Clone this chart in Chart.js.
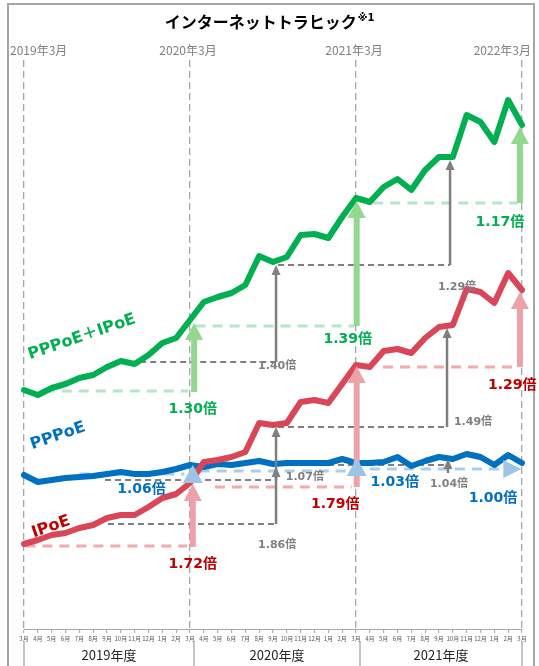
<!DOCTYPE html>
<html><head><meta charset="utf-8">
<script src="https://cdn.jsdelivr.net/npm/chart.js@4"></script>
<style>html,body{margin:0;padding:0;background:#fff}canvas{display:block}</style>
</head><body>
<canvas id="c" width="539" height="666"></canvas>
<script>
// ---- data (relative traffic) ----
const months = ['3月','4月','5月','6月','7月','8月','9月','10月','11月','12月','1月','2月',
                '3月','4月','5月','6月','7月','8月','9月','10月','11月','12月','1月','2月',
                '3月','4月','5月','6月','7月','8月','9月','10月','11月','12月','1月','2月','3月'];
const fiscalYears = ['2019年度','2020年度','2021年度'];
const marchLabels = ['2019年3月','2020年3月','2021年3月','2022年3月'];
const totalTraffic = [239,234,241,245,251,254,262,268,265,274,286,291,
                      309,327,332,336,344,373,367,372,394,395,391,412,
                      431,427,442,450,439,459,472,472,514,507,487,529,504];
const ipoeTraffic  = [85,89,94,96,101,104,111,114,114,122,131,135,
                      146,167,169,172,177,206,204,206,227,229,226,245,
                      264,262,278,280,276,291,302,304,340,337,326,356,339];
const pppoeTraffic = [154,147,149,151,152,153,155,157,155,155,157,160,
                      164,162,165,164,166,168,165,166,166,166,166,170,
                      166,166,167,172,163,168,172,170,175,172,164,174,166];
const seriesNames = ['PPPoE＋IPoE','PPPoE','IPoE'];
const ratioLabels = ['1.30倍','1.39倍','1.17倍','1.72倍','1.79倍','1.29倍','1.06倍','1.03倍','1.00倍',
                     '1.40倍','1.29倍','1.86倍','1.49倍','1.07倍','1.04倍'];

const SER = {total: totalTraffic, ipoe: ipoeTraffic, pppoe: pppoeTraffic};

// comparison annotations (indices on the month axis, pixel offsets from the value level)
const CMP = [
  {s:'total', from:0,  to:12, kind:'green', d:[1.5,11.85],  dDy:1, ax:12.3,  aDy:2, tDy:3, li:0,  lx:12.2, lDy:19},
  {s:'total', from:12, to:24, kind:'green', d:[12.4,23.9],  dDy:6, ax:24.05, aDy:6, tDy:3, li:1,  lx:23.4, lDy:19},
  {s:'total', from:24, to:36, kind:'green', d:[25.25,35.7], dDy:5, ax:35.85, aDy:5, tDy:2, li:2,  lx:34.4, lDy:24},
  {s:'ipoe',  from:0,  to:12, kind:'red',   d:[0.1,11.8],   dDy:2, ax:12.2,  aDy:3, tDy:1, li:3,  lx:12.2, lDy:20},
  {s:'ipoe',  from:12, to:24, kind:'red',   d:[13.8,23.7],  dDy:4, ax:24.05, aDy:4, tDy:1, li:4,  lx:22.5, lDy:21},
  {s:'ipoe',  from:24, to:36, kind:'red',   d:[25.95,35.7], dDy:2, ax:35.85, aDy:2, tDy:2, li:5,  lx:35.3, lDy:20},
  {s:'pppoe', from:0,  to:12, kind:'blue',  d:[4.0,11.6],   dDy:-1, ax:12.2, tri:'up', tDy:0,  li:6, lx:8.5,  lDy:14},
  {s:'pppoe', from:12, to:24, kind:'blue',  d:[12.7,23.7],  dDy:6, ax:24.05, tri:'up', tDy:-5, li:7, lx:26.8, lDy:17},
  {s:'pppoe', from:24, to:36, kind:'blue',  d:[25.0,34.8],  dDy:6, ax:35.95, tri:'right', li:8, lx:33.9, lDy:35},
  {s:'total', from:8,  to:18, kind:'gray',  d:[8.4,18.22],  dDy:-2, ax:18.22, aDy:-2, tDy:3, li:9,  lx:18.3, lDy:2},
  {s:'total', from:18, to:30, kind:'gray',  d:[18.36,30.8], dDy:3, ax:30.8,  aDy:3, tDy:3, li:10, lx:31.3, lDy:25},
  {s:'ipoe',  from:6,  to:18, kind:'gray',  d:[6.07,18.22], dDy:6, ax:18.22, aDy:6, tDy:2, li:11, lx:18.3, lDy:27},
  {s:'ipoe',  from:18, to:30, kind:'gray',  d:[18.36,30.58],dDy:2, ax:30.58, aDy:2, tDy:1, li:12, lx:32.46,lDy:-3},
  {s:'pppoe', from:6,  to:18, kind:'gray',  d:[5.86,18.22], dDy:6, ax:18.22, aDy:6, tDy:3, li:13, lx:20.3, lDy:3},
  {s:'pppoe', from:18, to:30, kind:'gray',  d:[18.36,30.65],dDy:1, ax:30.65, aDy:9, tDy:2, li:14, lx:30.72,lDy:20}
];
const KIND = {
  green:{dash:'#b5e6c7', arrow:'#92d88f', text:'#00b050', w:3, pat:[10,7]},
  red:  {dash:'#f2a9b0', arrow:'#eda1a9', text:'#c00000', w:3, pat:[10,7]},
  blue: {dash:'#a9cdee', arrow:'#9dc3e6', text:'#0070c0', w:3, pat:[10,7]},
  gray: {dash:'#7f7f7f', arrow:'#7f7f7f', text:'#7f7f7f', w:2, pat:[6,4]}
};

const SANS = "'DejaVu Sans','Noto Sans CJK JP',sans-serif";
const CJK = "'Noto Sans CJK JP','DejaVu Sans',sans-serif";

function vArrow(ctx,x,yb,yt,color,sw,hw,hl){
  ctx.fillStyle=color;
  ctx.fillRect(x-sw/2, yt+hl-0.5, sw, Math.max(0,yb-(yt+hl)+0.5));
  ctx.beginPath(); ctx.moveTo(x,yt); ctx.lineTo(x+hw/2,yt+hl); ctx.lineTo(x-hw/2,yt+hl); ctx.closePath(); ctx.fill();
}

const annPlugin = {
  id:'ann',
  beforeDraw(chart){
    const ctx=chart.ctx; ctx.save();
    ctx.fillStyle='#fff'; ctx.fillRect(0,0,chart.width,chart.height);
    ctx.strokeStyle='#a6a6a6'; ctx.lineWidth=2; ctx.strokeRect(8,4,526,680);
    ctx.restore();
  },
  beforeDatasetsDraw(chart){
    const ctx=chart.ctx, X=v=>chart.scales.x.getPixelForValue(v), Y=v=>chart.scales.y.getPixelForValue(v);
    ctx.save();
    CMP.forEach(c=>{
      const k=KIND[c.kind]; const y=Y(SER[c.s][c.from])+c.dDy;
      ctx.strokeStyle=k.dash; ctx.lineWidth=k.w; ctx.setLineDash(k.pat);
      ctx.beginPath(); ctx.moveTo(X(c.d[0]),y); ctx.lineTo(X(c.d[1]),y); ctx.stroke();
    });
    ctx.restore();
  },
  afterDatasetsDraw(chart){
    const ctx=chart.ctx, X=v=>chart.scales.x.getPixelForValue(v), Y=v=>chart.scales.y.getPixelForValue(v);
    ctx.save();
    CMP.forEach(c=>{
      const k=KIND[c.kind]; const base=Y(SER[c.s][c.from]); const top=Y(SER[c.s][c.to]);
      const x=X(c.ax);
      ctx.fillStyle=k.arrow;
      if(c.tri==='up'){
        const yt=top+c.tDy; ctx.beginPath(); ctx.moveTo(x,yt); ctx.lineTo(x+10,yt+18); ctx.lineTo(x-10,yt+18); ctx.closePath(); ctx.fill();
      } else if(c.tri==='right'){
        const y=base+c.dDy; ctx.beginPath(); ctx.moveTo(x,y); ctx.lineTo(x-18,y-9); ctx.lineTo(x-18,y+9); ctx.closePath(); ctx.fill();
      } else if(c.kind==='gray'){
        vArrow(ctx,x,base+c.aDy,top+c.tDy,k.arrow,2.5,9,10);
      } else {
        vArrow(ctx,x,base+c.aDy,top+c.tDy,k.arrow,6,18,17);
      }
    });
    // ratio labels
    ctx.textAlign='center'; ctx.textBaseline='middle';
    CMP.forEach(c=>{
      const k=KIND[c.kind]; const base=Y(SER[c.s][c.from]);
      ctx.fillStyle=k.text;
      ctx.font = c.kind==='gray' ? "bold 11px "+SANS : "bold 14px "+SANS;
      ctx.fillText(ratioLabels[c.li], X(c.lx), base+c.lDy);
    });
    // series name labels
    const names=[{t:seriesNames[0],c:'#00b050',x:82,y:337},{t:seriesNames[1],c:'#0070c0',x:58,y:436},{t:seriesNames[2],c:'#c00000',x:51,y:527}];
    names.forEach(n=>{
      ctx.save(); ctx.translate(n.x,n.y); ctx.rotate(-19*Math.PI/180);
      ctx.fillStyle=n.c; ctx.font="bold 16px "+SANS; ctx.fillText(n.t,0,0); ctx.restore();
    });
    // title
    ctx.textAlign='left'; ctx.textBaseline='alphabetic'; ctx.fillStyle='#000';
    const t1='インターネットトラヒック', t2='※1';
    ctx.font="bold 16px "+CJK; const w1=ctx.measureText(t1).width;
    ctx.font="bold 10px "+SANS; const w2=ctx.measureText(t2).width;
    const tx=269-(w1+w2)/2;
    ctx.font="bold 16px "+CJK; ctx.fillText(t1,tx,28);
    ctx.font="bold 10px "+SANS; ctx.fillText(t2,tx+w1+1,21);
    // march labels
    ctx.font="12px "+CJK; ctx.fillStyle='#7f7f7f'; ctx.textBaseline='middle';
    [0,12,24,36].forEach((idx,i)=>{
      const x=X(idx);
      if(i===0){ctx.textAlign='left'; ctx.fillText(marchLabels[i],x-14,50);}
      else if(i===3){ctx.textAlign='right'; ctx.fillText(marchLabels[i],531,50);}
      else {ctx.textAlign='center'; ctx.fillText(marchLabels[i],x-2,50);}
    });
    // fiscal year band
    const seps=[X(0),X(12)+4,X(24)+4,X(36)];
    ctx.strokeStyle='#a6a6a6'; ctx.lineWidth=1.3; ctx.setLineDash([]);
    seps.forEach((sx)=>{ ctx.beginPath(); ctx.moveTo(sx,641); ctx.lineTo(sx,666); ctx.stroke(); });
    ctx.font="13px "+CJK; ctx.fillStyle='#262626'; ctx.textAlign='center';
    fiscalYears.forEach((fy,i)=>{ ctx.fillText(fy,(seps[i]+seps[i+1])/2,655); });
    ctx.restore();
  }
};

const line=(label,data,color)=>({label,data,borderColor:color,borderWidth:6,pointRadius:0,tension:0,
  borderJoinStyle:'round',borderCapStyle:'round',fill:false});

new Chart(document.getElementById('c'),{
  type:'line',
  data:{labels:months,datasets:[
    line(seriesNames[2], ipoeTraffic, '#d94657'),
    line(seriesNames[0], totalTraffic, '#00b050'),
    line(seriesNames[1], pppoeTraffic, '#0070c0')
  ]},
  options:{
    responsive:false, animation:false, devicePixelRatio:1,
    layout:{padding:{top:60,left:24,right:17,bottom:0}},
    plugins:{legend:{display:false},tooltip:{enabled:false},title:{display:false}},
    scales:{
      x:{type:'category', offset:false,
        afterFit:(s)=>{s.height=37;},
        grid:{display:true, drawOnChartArea:true,
          color:(c)=> (c.index%12===0 ? '#a6a6a6' : 'rgba(0,0,0,0)'),
          lineWidth:1.3, tickColor:'#a6a6a6', tickLength:4, tickWidth:1, tickBorderDash:[]},
        border:{display:true,color:'#a6a6a6',width:1,dash:[7,4]},
        ticks:{autoSkip:false,maxRotation:0,minRotation:0,padding:2,color:'#595959',font:{size:6,family:CJK}}
      },
      y:{display:false,min:0,max:569}
    }
  },
  plugins:[annPlugin]
});
</script>
</body></html>
